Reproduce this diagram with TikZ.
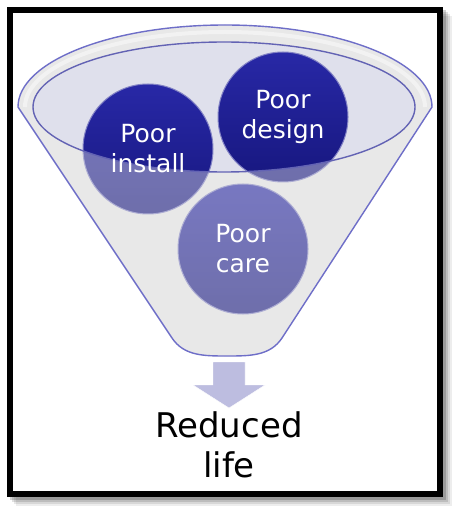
\documentclass[tikz,border=0pt]{standalone}
\usepackage{fontspec}
\setmainfont{DejaVu Sans}
\usetikzlibrary{positioning}

\definecolor{ballblue}{HTML}{1E1E96}
\definecolor{ballhi}{HTML}{2828A6}
\definecolor{balllo}{HTML}{17177F}
\definecolor{rimline}{HTML}{6E6EC8}
\definecolor{funnelgray}{HTML}{E8E8E8}
\definecolor{mouthfill}{HTML}{DFE0EC}
\definecolor{arrowfill}{HTML}{BDBDE0}

\newcommand\funnelshape{(18,-107) arc[start angle=180,end angle=0,x radius=207,y radius=82]
  -- (282,-338) .. controls (270,-356) and (250,-356) .. (227,-356)
  .. controls (204,-356) and (184,-356) .. (172,-338) -- cycle}
\newcommand\mouthshape{(224,-107) ellipse[x radius=191,y radius=65]}

\tikzset{
  ball/.style={circle,inner sep=0pt,minimum size=130pt,top color=ballhi,bottom color=balllo,draw=ballblue!55!white,line width=1pt},
  balltext/.style={text=white,align=center,font=\fontsize{25}{30}\selectfont},
}

\begin{document}
\begin{tikzpicture}[x=1pt,y=1pt]
  \useasboundingbox (0,0) rectangle (460,-518);
  \fill[white] (0,0) rectangle (460,-518);
  % frame shadow
  \foreach \d/\o in {9/0.07,7/0.09,5/0.12,3/0.18}
    \fill[black,opacity=\o] (7+\d,-7-\d) rectangle (443+\d,-497-\d);
  \fill[white] (7,-7) rectangle (443,-497);

  % funnel back
  \fill[funnelgray] \funnelshape;
  \draw[white,line width=4pt,opacity=0.8] (25,-107) arc[start angle=180,end angle=0,x radius=200,y radius=75];
  \fill[mouthfill] \mouthshape;

  % balls
  \node[ball] (install) at (148,-149) {};
  \node[ball] (design) at (283,-117) {};
  \node[ball] (care) at (243,-249) {};

  % funnel front
  \fill[funnelgray,opacity=0.42,even odd rule] \funnelshape \mouthshape;
  \draw[rimline,line width=1.4pt] \funnelshape;
  \draw[rimline!90!black,line width=1.4pt] \mouthshape;

  \node[balltext] (installtext) at (install) {Poor\\install};
  \node[balltext] (designtext) at (design) {Poor\\design};
  \node[balltext] (caretext) at (care) {Poor\\care};

  % down arrow
  \fill[arrowfill,draw=white,thin] (213,-362) -- (245,-362) -- (245,-385) -- (265,-385)
    -- (229,-408) -- (193,-385) -- (213,-385) -- cycle;
  \node[font=\fontsize{34}{40}\selectfont,align=center] (life) at (229,-445) {Reduced\\life};

  \draw[black,line width=6pt] (10,-10) rectangle (440,-494);
\end{tikzpicture}
\end{document}
